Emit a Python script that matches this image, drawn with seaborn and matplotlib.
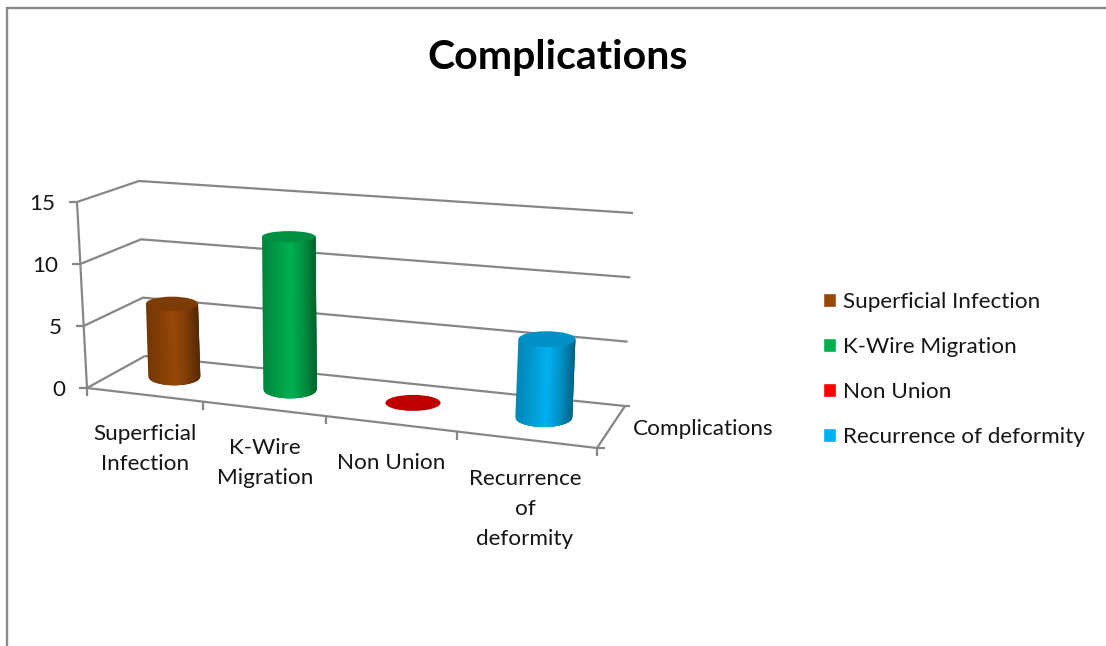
import numpy as np
import matplotlib
matplotlib.use("Agg")
import matplotlib.pyplot as plt
from matplotlib.patches import Ellipse, Polygon
from matplotlib.lines import Line2D
from matplotlib.transforms import IdentityTransform, Transform
import seaborn as sns

# Chart content
categories = ["Superficial Infection", "K-Wire Migration", "Non Union", "Recurrence of deformity"]
axis_labels = ["Superficial\nInfection", "K-Wire\nMigration", "Non Union", "Recurrence\nof\ndeformity"]
values = [6, 12.3, 0, 6]
value_ticks = [0, 5, 10, 15]
colors = ["#984807", "#00B050", "#FF0000", "#00B0F0"]
series_name = "Complications"

W, H = 1106, 646
GRID = "#868686"
TEXT = "#161616"
FONT_SIZE = 16.2

sns.set_theme(style="white")
plt.rcParams["font.family"] = ["Lato", "DejaVu Sans"]

# Corners of the chart box as (x, y) pixels from the top-left: [depth][value][side]
BOX = np.array([
    [[(87, 388), (597, 448)], [(77, 202), (610, 244)]],   # front plane
    [[(145, 356), (625, 406)], [(139, 181), (633, 213)]],  # back plane
], dtype=float)
PERSPECTIVE = 1.13
BAR_DEPTH = 0.55


def project(u, depth, v):
    """Category position, depth (0 front, 1 back) and value to figure pixels."""
    s = (np.asarray(u, float) + 0.5) / 4
    t = s / (s + PERSPECTIVE * (1 - s))
    h = np.asarray(v, float) / 15
    t, h = np.broadcast_arrays(t, h)
    out = np.zeros(t.shape + (2,))
    for di, dw in ((0, 1 - depth), (1, depth)):
        for vi, vw in ((0, 1 - h), (1, h)):
            for si, sw in ((0, 1 - t), (1, t)):
                out += (dw * vw * sw)[..., None] * BOX[di, vi, si]
    out[..., 1] = H - out[..., 1]
    return out


class UprightBar(Transform):
    """Places a bar's data coordinates on the box floor, keeping its sides upright."""
    input_dims = output_dims = 2
    is_separable = False
    has_inverse = False

    def __init__(self, centre, floor_depth):
        super().__init__()
        self.centre, self.floor_depth = centre, floor_depth

    def transform_non_affine(self, values):
        pts = np.asarray(values, float)
        axis_pts = project(np.full(len(pts), self.centre), self.floor_depth, pts[:, 1])
        local = (project(self.centre + 0.05, self.floor_depth, 0.0)[0]
                 - project(self.centre - 0.05, self.floor_depth, 0.0)[0]) / 0.1
        # Bars widen a little less than the category spacing does
        spread = 0.5 * local + 0.5 * 124
        axis_pts[:, 0] += (pts[:, 0] - self.centre) * spread
        return axis_pts


def semi_minor(y_display):
    # Ellipses flatten towards the eye level of the view
    return 9 + 0.023 * ((H - y_display) - 388)


def shade(color, s):
    rgb = np.array(matplotlib.colors.to_rgb(color))
    gain = np.interp(s, [-1, -0.55, 0.05, 0.5, 1], [0.76, 0.86, 1.0, 0.84, 0.56])
    return tuple(np.clip(rgb * gain, 0, 1))


fig = plt.figure(figsize=(W / 100, H / 100), dpi=100, facecolor="white")
ax = fig.add_axes([0.08, 0.3, 0.5, 0.4])

sns.barplot(x=categories, y=values, hue=categories, palette=colors, width=0.44,
            dodge=False, legend=True, saturation=1, ax=ax)
ax.set_ylim(0, 15)
ax.set_xlim(-0.5, 3.5)
handles, labels = ax.get_legend_handles_labels()
ax.get_legend().remove()
ax.set_axis_off()

ident = IdentityTransform()


def px_line(xs, ys, lw=1.6, z=1):
    ax.add_line(Line2D(xs, ys, color=GRID, lw=lw, transform=ident, clip_on=False,
                       zorder=z, solid_capstyle="butt"))


# Outer chart border
fig.add_artist(Line2D([7 / W, 7 / W, 1], [0, 1 - 8 / H, 1 - 8 / H], color="#8a8a8a", lw=1.7,
                      solid_joinstyle="miter"))

# Walls: gridlines run along the side wall and then the back wall
for v in value_ticks:
    pts = np.array([project(-0.5, 0.0, v), project(-0.5, 1.0, v), project(3.5, 1.0, v)])
    if v == 0:
        pts = pts[:2]
    px_line(pts[:, 0], pts[:, 1])
    a = project(-0.5, 0.0, v)
    px_line([a[0] - 8, a[0]], [a[1], a[1]])

# Back edge of the floor and the front and depth axes
back = np.array([project(-0.5, 1.0, 0), project(3.5, 1.0, 0)])
px_line(back[:, 0], back[:, 1])
front_u = np.linspace(-0.5, 3.5, 33)
front_curve = project(front_u, 0.0, 0 * front_u)
px_line(front_curve[:, 0], front_curve[:, 1], z=2)
side = np.array([project(3.5, 0.0, 0), project(3.5, 1.0, 0)])
px_line(side[:, 0], side[:, 1], z=2)
px_line([side[0, 0], side[0, 0] + 8], [side[0, 1], side[0, 1]], z=2)
px_line([side[1, 0], side[1, 0] + 5], [side[1, 1], side[1, 1]], z=2)
for u in np.arange(-0.5, 4.0):
    a = project(u, 0.0, 0)
    px_line([a[0], a[0]], [a[1], a[1] - 8], z=2)

# Value axis line
axis = np.array([project(-0.5, 0.0, 0), project(-0.5, 0.0, 15)])
px_line(axis[:, 0], axis[:, 1], z=2)

# Reshape the seaborn bars into upright cylinders standing on the floor
order = np.argsort([c[0].get_x() for c in ax.containers])
for idx in order:
    bar = ax.containers[idx][0]
    color = colors[idx]
    width = bar.get_width()
    centre = bar.get_x() + width / 2
    height = bar.get_height()
    tf = UprightBar(centre, BAR_DEPTH)
    bar.set_transform(tf)
    bar.set_clip_on(False)
    bar.set_zorder(4)
    bar.set_edgecolor("none")
    bar.set_visible(height == 0)

    left_b, left_t, right_b, right_t = tf.transform(np.array([
        [centre - width / 2, 0.0], [centre - width / 2, height],
        [centre + width / 2, 0.0], [centre + width / 2, height]]))
    base = (left_b + right_b) / 2
    top = (left_t + right_t) / 2
    half = (right_b[0] - left_b[0]) / 2
    b_base, b_top = semi_minor(base[1]), semi_minor(top[1])

    if height > 0:
        # Shaded slices painted left to right, each overlapping the next to hide seams
        edges = np.linspace(-1, 1, 61)
        for s0, s1 in zip(edges[:-1], edges[1:]):
            s2 = min(s1 + 0.07, 1.0)
            quad = [
                (top[0] + s0 * half, top[1]),
                (top[0] + s2 * half, top[1]),
                (base[0] + s2 * half, base[1] - b_base * np.sqrt(1 - s2 ** 2)),
                (base[0] + s1 * half, base[1] - b_base * np.sqrt(1 - s1 ** 2)),
                (base[0] + s0 * half, base[1] - b_base * np.sqrt(1 - s0 ** 2)),
            ]
            tone = shade(color, (s0 + s1) / 2)
            ax.add_patch(Polygon(quad, closed=True, facecolor=tone, edgecolor="none",
                                 transform=ident, clip_on=False, zorder=5))
        cap = tuple(np.array(matplotlib.colors.to_rgb(color)) * 0.82)
    else:
        cap = "#C00000"
    ax.add_patch(Ellipse(top, 2 * half, 2 * (b_top if height > 0 else 8), facecolor=cap,
                         edgecolor="none", transform=ident, clip_on=False, zorder=6))


def px_text(x, y, s, **kw):
    kw.setdefault("color", TEXT)
    kw.setdefault("fontsize", FONT_SIZE)
    kw.setdefault("va", "center")
    kw.setdefault("ha", "center")
    fig.text(x / W, 1 - y / H, s, **kw)


# Titles and axis labels
px_text(558, 58, series_name, fontsize=29.5, fontweight="bold", color="black")
for v in value_ticks:
    a = project(-0.5, 0.0, v)
    px_text(a[0] - 22, H - a[1] + 2, str(v), ha="right")
label_pos = [(145, 449), (265, 463), (391, 463), (525, 509)]
for (lx, ly), text in zip(label_pos, axis_labels):
    px_text(lx, ly, text, linespacing=1.65)
px_text(703, 429, series_name)

# Legend
fig.legend(handles, labels, loc="upper left", bbox_to_anchor=(823 / W, 1 - 292 / H),
           frameon=False, fontsize=FONT_SIZE, labelcolor=TEXT, handlelength=0.58, handleheight=0.58,
           handletextpad=0.31, labelspacing=1.106, borderaxespad=0, borderpad=0)

fig.savefig("out.png", dpi=100, facecolor="white")
